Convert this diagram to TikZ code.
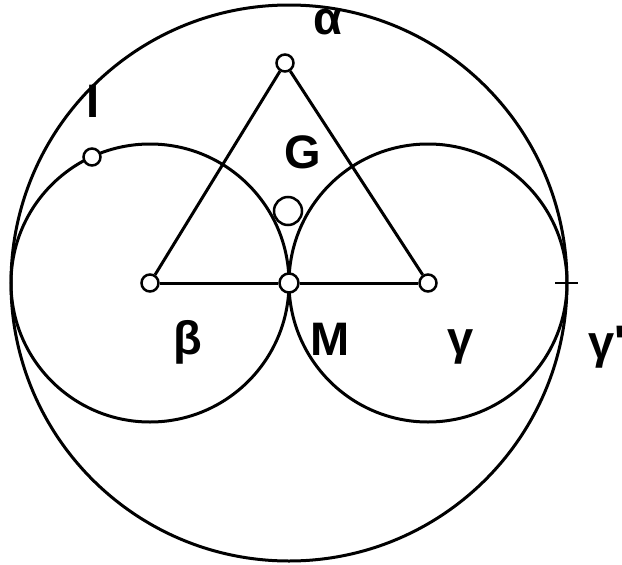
\documentclass[tikz,border=0pt]{standalone}
\usepackage{fontspec}
\setmainfont{Liberation Sans}
\usetikzlibrary{calc}
\tikzset{
  dot/.style={circle, draw=black, fill=white, line width=2.5pt, inner sep=0pt, minimum size=17pt},
  lab/.style={font=\fontsize{47}{47}\selectfont\bfseries, inner sep=0pt},
}

\begin{document}
\begin{tikzpicture}[x=1pt, y=-1pt, line width=3pt]
\useasboundingbox (0,0) rectangle (622,565);
\coordinate (O) at (289,283);
\coordinate (B) at (150,283);
\coordinate (C) at (428,283);
\coordinate (T1) at (555,283);
\coordinate (T2) at (578,283);
% circles
\draw (O) circle[radius=278];
\draw (B) circle[radius=139];
\draw (C) circle[radius=139];
\draw[line width=2.5pt] (T1) -- (T2);
% points
\node[dot] (A) at (285,63) {};
\node[dot] (Bp) at (B) {};
\node[dot] (Cp) at (C) {};
\node[dot, minimum size=19pt] (M) at (O) {};
\node[dot, minimum size=28pt] (G) at (288,211) {};
\node[dot] (I) at (92,157) {};
% triangle
\draw (A) -- (Bp);
\draw (A) -- (Cp);
\draw (Bp) -- (M);
\draw (M) -- (Cp);
% labels
\node[lab] (la) at (328,22) {α};
\node[lab] (lI) at (93,101) {I};
\node[lab] (lG) at (303,152) {G};
\node[lab] (lb) at (188,342) {β};
\node[lab] (lM) at (330,339) {M};
\node[lab] (lc) at (461,347) {γ};
\node[lab, anchor=west] (lc2) at (587,347) {γ\textquotesingle};
\end{tikzpicture}
\end{document}
